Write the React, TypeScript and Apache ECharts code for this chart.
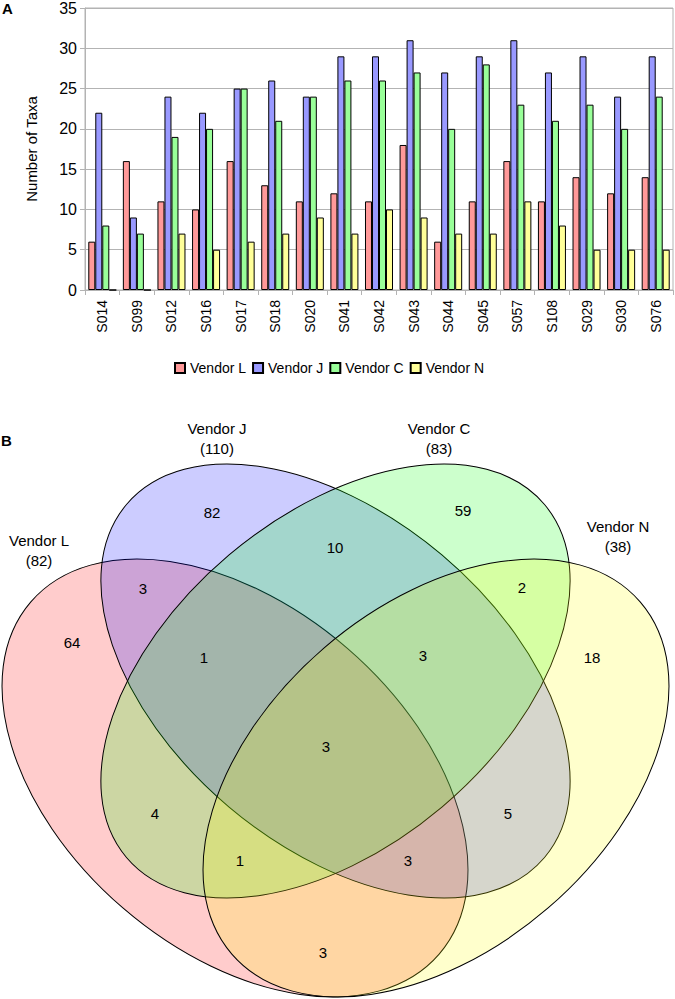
import React, { useEffect, useRef } from "react";
import * as echarts from "echarts";

// ---------- Panel A data ----------
const samples = ["S014", "S099", "S012", "S016", "S017", "S018", "S020", "S041", "S042", "S043", "S044", "S045", "S057", "S108", "S029", "S030", "S076"];
const vendorL = [6, 16, 11, 10, 16, 13, 11, 12, 11, 18, 6, 11, 16, 11, 14, 12, 14];
const vendorJ = [22, 9, 24, 22, 25, 26, 24, 29, 29, 31, 27, 29, 31, 27, 29, 24, 29];
const vendorC = [8, 7, 19, 20, 25, 21, 24, 26, 26, 27, 20, 28, 23, 21, 23, 20, 24];
const vendorN = [0, 0, 7, 5, 6, 7, 9, 7, 10, 9, 7, 7, 11, 8, 5, 5, 5];
const seriesNames = ["Vendor L", "Vendor J", "Vendor C", "Vendor N"];
const yMax = 35;
const yInterval = 5;

// ---------- Panel B data ----------
const vennSetNames = ["Vendor L", "Vendor J", "Vendor C", "Vendor N"];
const vennSetTotals = [82, 110, 83, 38];
const vennRegions = ["L", "J", "C", "N", "LJ", "JC", "CN", "LJC", "JCN", "LJCN", "LC", "JN", "LCN", "LJN", "LN"];
const vennCounts = [64, 82, 59, 18, 3, 10, 2, 1, 3, 3, 4, 5, 1, 3, 3];

// ---------- Layout (positions / styles only) ----------
const barColors = ["#ff9999", "#9999ff", "#99ff99", "#ffff99"];
const vennFills = ["rgba(255,0,0,0.2)", "rgba(0,0,255,0.2)", "rgba(0,255,0,0.2)", "rgba(255,255,0,0.2)"];
const ellipseLayout = [
  { cx: 235, cy: 778, a: 269.7, b: 171.7, deg: -40.8 },
  { cx: 335.5, cy: 681, a: 273.6, b: 165, deg: -40.2 },
  { cx: 335.5, cy: 681, a: 273.6, b: 165, deg: 40.2 },
  { cx: 436, cy: 778, a: 269.7, b: 171.7, deg: 40.8 },
];
const setLabelPos = [
  [39, 540],
  [217, 428],
  [439, 428],
  [618, 526],
];
const regionPos: Record<string, [number, number]> = {
  L: [72, 642],
  J: [212, 512],
  C: [463, 510],
  N: [592, 657],
  LJ: [143, 588],
  JC: [335, 547],
  CN: [522, 587],
  LJC: [204, 657],
  JCN: [423, 655],
  LJCN: [326, 746],
  LC: [155, 813],
  JN: [508, 813],
  LCN: [240, 860],
  LJN: [408, 860],
  LN: [323, 952],
};

const FONT = "Liberation Sans, Arial, sans-serif";

function textEl(x: number, y: number, text: string, size: number, weight = "normal", align = "center") {
  return {
    type: "text",
    x,
    y,
    silent: true,
    z: 100,
    style: {
      text,
      font: `${weight} ${size}px ${FONT}`,
      fill: "#000",
      align,
      textAlign: align,
      verticalAlign: "middle",
      textVerticalAlign: "middle",
    },
  };
}

export default function App() {
  const ref = useRef<HTMLDivElement>(null);

  useEffect(() => {
    if (!ref.current) return;
    const chart = echarts.init(ref.current, undefined, { renderer: "svg" });
    const allValues = [vendorL, vendorJ, vendorC, vendorN];

    const graphics: any[] = [];
    ellipseLayout.forEach((e, i) => {
      graphics.push({
        type: "ellipse",
        x: e.cx,
        y: e.cy,
        rotation: (e.deg * Math.PI) / 180,
        z: 10 + i,
        shape: { cx: 0, cy: 0, rx: e.a, ry: e.b },
        style: { fill: vennFills[i], stroke: "#000", lineWidth: 1 },
      });
    });
    vennSetNames.forEach((n, i) => {
      const [x, y] = setLabelPos[i];
      graphics.push(textEl(x, y, n, 15));
      graphics.push(textEl(x, y + 20, `(${vennSetTotals[i]})`, 15));
    });
    vennRegions.forEach((r, i) => {
      const [x, y] = regionPos[r];
      graphics.push(textEl(x, y, String(vennCounts[i]), 15));
    });
    graphics.push(textEl(2, 8, "A", 15, "bold", "left"));
    graphics.push(textEl(1, 440, "B", 15, "bold", "left"));

    chart.setOption({
      animation: false,
      textStyle: { fontFamily: FONT },
      grid: {
        left: 85,
        top: 7,
        width: 588,
        height: 283,
        show: true,
        borderColor: "#b3b3b3",
        borderWidth: 1,
      },
      legend: {
        data: seriesNames,
        left: 169,
        top: 356,
        icon: "rect",
        itemWidth: 10,
        itemHeight: 10,
        itemGap: 6,
        textStyle: { fontSize: 14, color: "#000", fontFamily: FONT },
      },
      xAxis: {
        type: "category",
        data: samples,
        axisLine: { lineStyle: { color: "#b3b3b3" } },
        axisTick: { show: true, length: 5, lineStyle: { color: "#b3b3b3" } },
        axisLabel: { rotate: 90, fontSize: 14, color: "#000", margin: 10, fontFamily: FONT },
      },
      yAxis: {
        type: "value",
        min: 0,
        max: yMax,
        interval: yInterval,
        name: "Number of Taxa",
        nameLocation: "middle",
        nameGap: 46,
        nameTextStyle: { fontSize: 15, color: "#000", fontFamily: FONT },
        axisLine: { show: true, lineStyle: { color: "#b3b3b3" } },
        axisTick: { show: true, length: 5, lineStyle: { color: "#b3b3b3" } },
        axisLabel: { fontSize: 16, color: "#000", margin: 8, fontFamily: FONT },
        splitLine: { lineStyle: { color: "#b3b3b3" } },
      },
      series: seriesNames.map((name, i) => ({
        name,
        type: "bar",
        data: allValues[i],
        barGap: "0%",
        barCategoryGap: "19%",
        itemStyle: { color: barColors[i], borderColor: "#000", borderWidth: 1 },
      })),
      graphic: { elements: graphics },
    });

    return () => chart.dispose();
  }, []);

  return (
    <div
      ref={ref}
      style={{ position: "absolute", left: 0, top: 0, width: 675, height: 999, background: "#fff" }}
    />
  );
}
